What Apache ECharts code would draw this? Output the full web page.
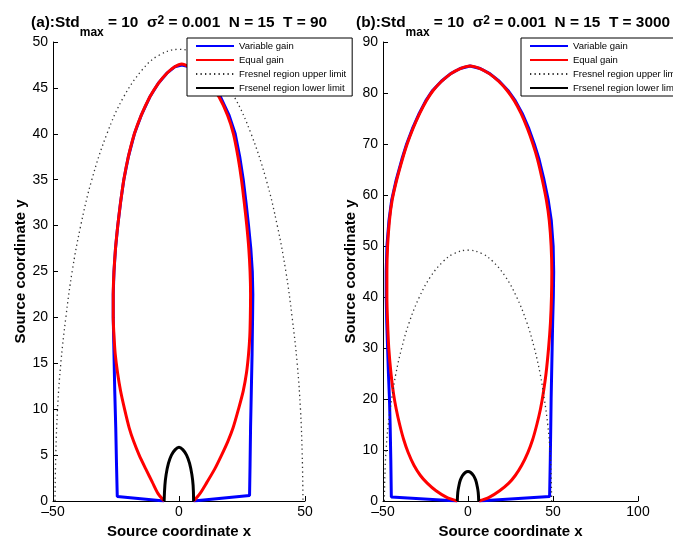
<!DOCTYPE html>
<html>
<head>
<meta charset="utf-8">
<script src="https://cdn.jsdelivr.net/npm/echarts@6/dist/echarts.min.js"></script>
<style>html,body{margin:0;padding:0;background:#fff}#c{width:673px;height:544px}</style>
</head>
<body>
<div id="c"></div>
<script>
var seriesNames = ['Variable gain', 'Equal gain', 'Fresnel region upper limit', 'Frsenel region lower limit'];

// Panel (a): T = 90
var varGainA = [[-5.9,0],[-24.5,0.5],[-24.8,4],[-25.1,8],[-25.5,12],[-25.8,16],[-26.1,20],[-26.1,22.5],[-25.8,25],[-25.2,27.5],[-24.3,30],[-23.2,32.5],[-21.9,35],[-20.1,37.5],[-17.7,40],[-15.0,42],[-11.6,44],[-8.2,45.5],[-4.8,46.6],[-1.7,47.3],[1.1,47.5],[4.2,47.3],[8.4,46.6],[12.5,45.5],[16.5,44],[19.9,42],[22.3,40],[24.1,37.5],[25.5,35],[26.6,32.5],[27.6,30],[28.5,27.5],[29.1,25],[29.3,22.5],[29.2,20],[29.0,16],[28.7,12],[28.4,8],[28.2,4],[28.0,0.6],[5.8,0]];
var eqGainA = [[-5.9,0],[-8.3,0.8],[-10.5,2],[-13.2,3.5],[-15.8,5],[-18.0,6.5],[-19.8,8],[-21.6,10],[-23.2,12],[-24.4,14],[-25.3,16],[-25.8,18],[-26.1,20],[-26.1,22.5],[-25.8,25],[-25.2,27.5],[-24.3,30],[-23.2,32.5],[-21.9,35],[-20.1,37.5],[-17.7,40],[-15.0,42],[-11.6,44],[-8.2,45.5],[-4.8,46.6],[-1.7,47.3],[1.1,47.6],[4.0,47.3],[8.0,46.6],[12.0,45.5],[15.9,44],[19.3,42],[21.6,40],[23.4,37.5],[24.8,35],[25.9,32.5],[26.9,30],[27.7,27.5],[28.2,25],[28.4,22.5],[28.3,20],[28.1,18],[27.6,16],[26.8,14],[25.5,12],[23.6,10],[21.5,8],[19.4,6.5],[16.9,5],[14.2,3.5],[11.0,2],[8.3,0.8],[5.8,0]];
var fresnelUpper = [[-49.2,0],[-48.9,5],[-48.2,10],[-46.9,15],[-44.9,20],[-42.4,25],[-39.0,30],[-34.6,35],[-28.6,40],[-22.0,44],[-14.5,47],[-8.3,48.5],[0,49.2],[8.3,48.5],[14.5,47],[22.0,44],[28.6,40],[34.6,35],[39.0,30],[42.4,25],[44.9,20],[46.9,15],[48.2,10],[48.9,5],[49.2,0]];
var fresnelLowerA = [[-5.9,0],[-5.6,1.7],[-5.1,2.9],[-4.2,4.1],[-3,5],[-1.5,5.6],[0,5.85],[1.5,5.6],[3,5],[4.2,4.1],[5.1,2.9],[5.6,1.7],[5.8,0]];

// Panel (b): T = 3000
var varGainB = [[-6.3,0],[-45.1,0.8],[-45.4,8],[-45.8,15],[-46.2,20],[-46.8,25],[-47.3,30],[-47.8,35],[-48.1,40],[-48.1,45],[-47.7,50],[-46.5,55],[-44.9,59],[-42.2,63],[-38.9,67],[-36.1,70],[-32.7,73],[-28.7,76],[-24.8,78.5],[-20.8,80.5],[-15.7,82.3],[-10.2,83.8],[-4.6,84.8],[1.2,85.3],[7.2,84.8],[12.8,83.8],[18.4,82.3],[23.5,80.5],[27.8,78.5],[31.9,76],[35.8,73],[39.0,70],[41.8,67],[44.7,63],[47.2,59],[49.0,55],[50.1,50],[50.4,45],[50.2,40],[49.8,35],[49.5,30],[49.2,25],[48.9,20],[48.7,15],[48.4,8],[48.0,0.9],[6.5,0]];
var eqGainB = [[-6.3,0],[-12.5,0.7],[-18.8,2],[-24,3.5],[-28,5],[-31.8,7],[-35.2,9.5],[-37.8,12],[-40.2,15],[-42.2,18],[-43.8,21],[-45.3,25],[-46.6,30],[-47.3,35],[-47.7,40],[-47.7,45],[-47.3,50],[-46.2,55],[-44.6,59],[-41.9,63],[-38.6,67],[-35.8,70],[-32.4,73],[-28.4,76],[-24.5,78.5],[-20.5,80.5],[-15.5,82.3],[-10,83.8],[-4.5,84.8],[1.2,85.3],[7,84.8],[12.5,83.8],[18,82.3],[23,80.5],[27.2,78.5],[31.2,76],[35,73],[38.2,70],[40.9,67],[43.7,63],[46.1,59],[47.8,55],[48.9,50],[49.3,45],[49.1,40],[48.5,35],[47.4,30],[45.9,25],[44.2,21],[42.6,18],[40.5,15],[38,12],[35.2,9.5],[31.6,7],[27.8,5],[24,3.5],[18.6,2],[12.4,0.7],[6.5,0]];
var fresnelLowerB = [[-6.3,0],[-6.0,1.7],[-5.4,2.9],[-4.5,4.1],[-3.2,5],[-1.6,5.6],[0,5.8],[1.6,5.6],[3.2,5],[4.5,4.1],[5.4,2.9],[6.0,1.7],[6.3,0]];

var xTicksA = [-50, 50, 50];  // min, max, step
var yTicksA = [0, 50, 5];
var xTicksB = [-50, 100, 50];
var yTicksB = [0, 90, 10];

var FONT = "'Liberation Sans', Arial, Helvetica, sans-serif";
function fmt(v){ return v < 0 ? '\u2013' + (-v) : String(v); }

function xAxisCfg(gi, t){
  return {
    type:'value', gridIndex:gi, min:t[0], max:t[1], interval:t[2],
    name:'Source coordinate x', nameLocation:'middle', nameGap:23,
    nameTextStyle:{fontFamily:FONT, fontSize:15, fontWeight:'bold', color:'#000'},
    axisLine:{onZero:false, lineStyle:{color:'#000', width:1}},
    axisTick:{inside:true, length:5, lineStyle:{color:'#000'}},
    axisLabel:{formatter:fmt, fontFamily:FONT, fontSize:14, color:'#000', margin:4},
    splitLine:{show:false}
  };
}
function yAxisCfg(gi, t){
  return {
    type:'value', gridIndex:gi, min:t[0], max:t[1], interval:t[2],
    name:'Source coordinate y', nameLocation:'middle', nameGap:25, nameRotate:90,
    nameTextStyle:{fontFamily:FONT, fontSize:15, fontWeight:'bold', color:'#000'},
    axisLine:{onZero:false, lineStyle:{color:'#000', width:1}},
    axisTick:{inside:true, length:5, lineStyle:{color:'#000'}},
    axisLabel:{formatter:fmt, fontFamily:FONT, fontSize:14, color:'#000', margin:5},
    splitLine:{show:false}
  };
}
function mk(name, data, gi, color, width, type, z, smooth){
  return {
    type:'line', name:name, data:data, xAxisIndex:gi, yAxisIndex:gi,
    showSymbol:false, symbol:'none', smooth:smooth, z:z,
    lineStyle:{color:color, width:width, type:type},
    itemStyle:{color:color}
  };
}
var rich = {
  b:{fontFamily:FONT, fontSize:15.4, fontWeight:'bold', color:'#000'},
  sub:{fontFamily:FONT, fontSize:12, fontWeight:'bold', color:'#000', padding:[20,0,0,0]},
  sup:{fontFamily:FONT, fontSize:12, fontWeight:'bold', color:'#000', padding:[0,0,5,0]}
};
function legendCfg(left){
  return {
    show:true, orient:'vertical', left:left, top:38,
    data:seriesNames,
    backgroundColor:'#fff', borderColor:'#000', borderWidth:1, borderRadius:0,
    padding:[3,6,3,8], itemGap:4, itemWidth:38, itemHeight:11,
    itemStyle:{opacity:0},
    textStyle:{fontFamily:FONT, fontSize:9.5, color:'#000'},
    selectedMode:false, z:10
  };
}
var chart = echarts.init(document.getElementById('c'), null, {renderer:'canvas'});
chart.setOption({
  animation:false,
  backgroundColor:'#fff',
  title:[
    {text:'{b|(a):Std}{sub|max}{b| = 10  \u03c3}{sup|2}{b| = 0.001  N = 15  T = 90}', left:26, top:2, textStyle:{rich:rich}},
    {text:'{b|(b):Std}{sub|max}{b| = 10  \u03c3}{sup|2}{b| = 0.001  N = 15  T = 3000}', left:351, top:2, textStyle:{rich:rich}}
  ],
  legend:[legendCfg(187), legendCfg(521)],
  grid:[
    {left:53, top:42, width:252, height:464},
    {left:383, top:42, width:255, height:464}
  ],
  xAxis:[xAxisCfg(0, xTicksA), xAxisCfg(1, xTicksB)],
  yAxis:[yAxisCfg(0, yTicksA), yAxisCfg(1, yTicksB)],
  series:[
    mk(seriesNames[0], varGainA, 0, '#0000ff', 3, 'solid', 2, false),
    mk(seriesNames[1], eqGainA, 0, '#ff0000', 3, 'solid', 3, 0.25),
    mk(seriesNames[2], fresnelUpper, 0, '#333', 1.3, [1.3,3.2], 4, 0.4),
    mk(seriesNames[3], fresnelLowerA, 0, '#000', 3, 'solid', 5, 0.4),
    mk(seriesNames[0], varGainB, 1, '#0000ff', 3, 'solid', 2, false),
    mk(seriesNames[1], eqGainB, 1, '#ff0000', 3, 'solid', 3, 0.25),
    mk(seriesNames[2], fresnelUpper, 1, '#333', 1.3, [1.3,3.2], 4, 0.4),
    mk(seriesNames[3], fresnelLowerB, 1, '#000', 3, 'solid', 5, 0.4)
  ]
});
</script>
</body>
</html>
